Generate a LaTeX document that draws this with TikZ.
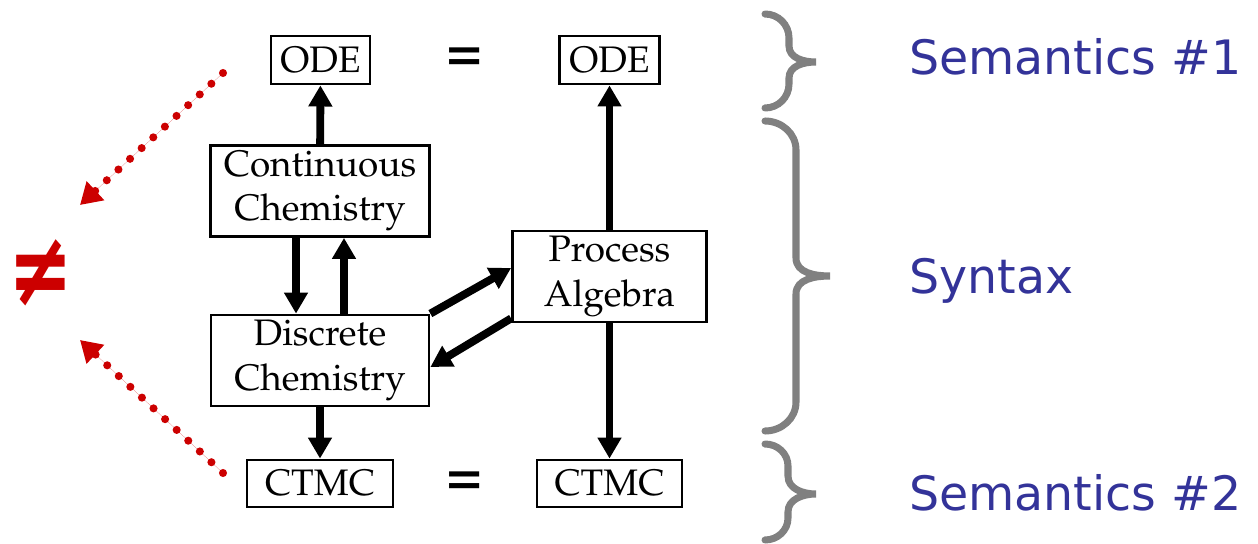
\documentclass[tikz,border=0pt]{standalone}
\usepackage[T1]{fontenc}
\usepackage{mathpazo}
\usepackage{fontspec}
\usetikzlibrary{arrows.meta,positioning}
\newfontfamily\labelfont{DejaVu Sans}
\newcommand\boxfont{\fontencoding{T1}\fontfamily{ppl}\fontsize{21}{25.5}\selectfont}
\definecolor{labelblue}{HTML}{333399}
\definecolor{neqred}{HTML}{CC0000}
\definecolor{bracegray}{HTML}{808080}

\begin{document}
\begin{tikzpicture}[
  x=0.02cm,y=-0.02cm,
  box/.style={draw,line width=1.6pt,inner sep=0pt,align=center,font=\boxfont},
  arr/.style={-{Triangle[width=13pt,length=12pt]},line width=4.5pt},
  dotarr/.style={-{Triangle[width=14pt,length=12pt]},draw=neqred,fill=neqred,line width=4.6pt,line cap=round,dash pattern=on 0pt off 9pt},
  bracket/.style={draw=bracegray,line width=4pt,line cap=round},
  sem/.style={text=labelblue,anchor=base west,font=\labelfont\fontsize{27}{30}\selectfont},
  eqsign/.style={font=\boxfont\fontsize{34}{34}\selectfont\bfseries},
  neqsign/.style={text=neqred,font=\labelfont\bfseries\fontsize{44}{44}\selectfont}
]
\useasboundingbox (0,0) rectangle (1258,544);
% top row
\node[box,minimum width=1.98cm,minimum height=0.96cm] (ode1) at (320.5,60) {ODE};
\node[eqsign] (eq1) at (465,60) {=};
\node[box,minimum width=2cm,minimum height=0.96cm] (ode2) at (609.5,60) {ODE};
% middle
\node[box,minimum width=4.38cm,minimum height=1.82cm] (cont) at (320,191) {Continuous\\Chemistry};
\node[box,minimum width=4.36cm,minimum height=1.82cm] (disc) at (320,360.5) {Discrete\\Chemistry};
\node[box,minimum width=3.88cm,minimum height=1.82cm] (proc) at (609.5,276.5) {Process\\Algebra};
% bottom row
\node[box,minimum width=2.92cm,minimum height=0.94cm] (ctmc1) at (320,483.5) {CTMC};
\node[eqsign] (eq2) at (465,484) {=};
\node[box,minimum width=2.9cm,minimum height=0.94cm] (ctmc2) at (609.5,483.5) {CTMC};

\draw[arr] (cont) -- (ode1);
\draw[arr] ([xshift=-0.48cm]cont.south) -- ([xshift=-0.48cm]disc.north);
\draw[arr] ([xshift=0.48cm]disc.north) -- ([xshift=0.48cm]cont.south);
\draw[arr] (disc) -- (ctmc1);
\draw[arr] (proc) -- (ode2);
\draw[arr] (proc) -- (ctmc2);
\draw[arr] (disc.north east) -- ([yshift=0.17cm]proc.west);
\draw[arr] ([yshift=0.1cm]proc.south west) -- ([yshift=-0.13cm]disc.east);

% not equal
\node[neqsign] (neqmark) at (41,273) {\scalebox{1}[1.35]{≠}};
\coordinate (odeleft) at (223,73);
\coordinate (neqtop) at (80,205);
\coordinate (ctmcleft) at (223,473);
\coordinate (neqbot) at (80,340);
\draw[dotarr] (odeleft) -- (neqtop);
\draw[dotarr] (ctmcleft) -- (neqbot);

% braces
\draw[bracket] (765,14) to[out=0,in=90] (789,38) -- (789,46) to[out=-90,in=180] (816,62)
  to[out=180,in=90] (789,78) -- (789,84) to[out=-90,in=0] (765,108);
\draw[bracket] (765,121) to[out=0,in=90] (796,150) -- (796,258) to[out=-90,in=180] (830,276)
  to[out=180,in=90] (796,294) -- (796,402) to[out=-90,in=0] (765,431);
\draw[bracket] (765,444) to[out=0,in=90] (788,466) -- (788,476) to[out=-90,in=180] (816,494)
  to[out=180,in=90] (788,512) -- (788,518) to[out=-90,in=0] (765,540);

\node[sem] (sem1) at (903,75) {Semantics \#1};
\node[sem] (syn) at (903,293) {Syntax};
\node[sem] (sem2) at (903,510) {Semantics \#2};
\end{tikzpicture}
\end{document}
